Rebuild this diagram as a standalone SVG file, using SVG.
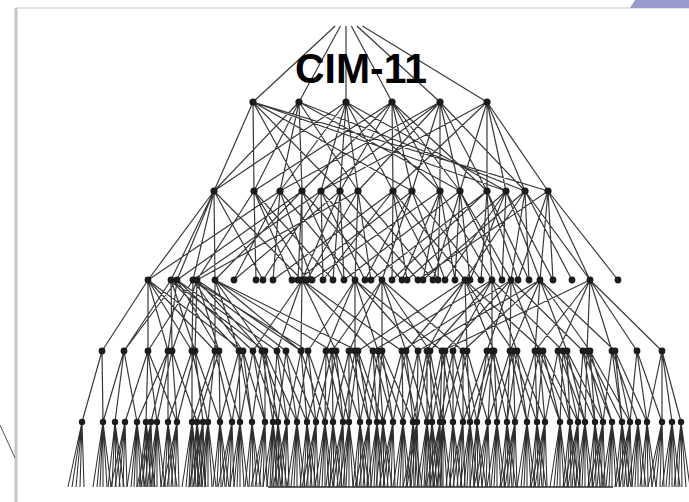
<svg xmlns="http://www.w3.org/2000/svg" xmlns:xlink="http://www.w3.org/1999/xlink" width="689" height="502" viewBox="0 0 689 502">
<style>
.e{fill:none;stroke:#3a3a3a;stroke-width:1.2;stroke-linejoin:round}
.f{fill:none;stroke:#2e2e2e;stroke-width:1.05}
.n{fill:#1c1c1c}
.t{font-family:"Liberation Sans",Arial,sans-serif;font-weight:bold;font-size:43px;fill:#000}
</style>
<defs>
<path id="fa" class="f" d="M0 0L-14 65M0 0L-10 65M0 0L-6 65M0 0L-2 65M0 0L2 65"/>
<path id="fb" class="f" d="M0 0L-10 65M0 0L-6 65M0 0L-3 65M0 0L0 65M0 0L4 65M0 0L8 65"/>
<path id="fc" class="f" d="M0 0L-7 65M0 0L-3 65M0 0L1 65M0 0L5 65M0 0L9 65"/>
</defs>
<rect width="689" height="502" fill="#fff"/>
<g id="frame">
<line x1="16" y1="8" x2="689" y2="8" stroke="#e2e2e2" stroke-width="2"/>
<line x1="16" y1="8" x2="16" y2="502" stroke="#c4c4c4" stroke-width="3"/>
<polygon points="630,8 635,0 689,0 689,8" fill="#9a9acc"/>
<line x1="0" y1="425" x2="15" y2="458" stroke="#555" stroke-width="1"/>
</g>
<g id="connectors">
<path class="e" d="M335.2 26L253 102M340.5 26L299 102M346 26L346 102M351.3 26L392 102M356.9 26L440 102M362.4 26L487 102"/>
<path class="e" d="M214 191L253 102 254 191 253 102 302 191 253 102 340 191 253 102 412 191 253 102 506 191 253 102 548 191
M214 191L299 102 254 191 299 102 280 191 299 102 302 191 299 102 358 191 299 102 460 191 299 102 525 191
M214 191L346 102 280 191 346 102 321 191 346 102 340 191 346 102 358 191 346 102 393 191 346 102 440 191 346 102 506 191
M254 191L392 102 302 191 392 102 340 191 392 102 393 191 392 102 412 191 392 102 440 191 392 102 460 191 392 102 487 191
M280 191L440 102 321 191 440 102 358 191 440 102 412 191 440 102 440 191 440 102 460 191 440 102 487 191 440 102 525 191
M321 191L487 102 393 191 487 102 460 191 487 102 487 191 487 102 506 191 487 102 525 191 487 102 548 191"/>
<path class="e" d="M148 280L214 191 171 280 214 191 177 280 214 191 193 280 214 191 215 280 214 191 263 280 214 191 302 280
M197 280L254 191 256 280 254 191 292 280 254 191 307 280 254 191 333 280
M148 280L280 191 234 280 280 191 273 280 280 191 312 280 280 191 355 280
M177 280L302 191 215 280 302 191 298 280 302 191 302 280 302 191 344 280 302 191 382 280
M193 280L321 191 263 280 321 191 323 280 321 191 365 280 321 191 402 280
M234 280L340 191 302 280 340 191 333 280 340 191 344 280 340 191 418 280
M197 280L358 191 307 280 358 191 355 280 358 191 371 280 358 191 433 280
M273 280L393 191 323 280 393 191 392 280 393 191 407 280 393 191 438 280 393 191 465 280
M298 280L412 191 365 280 412 191 382 280 412 191 445 280 412 191 481 280
M312 280L440 191 402 280 440 191 423 280 440 191 438 280 440 191 455 280 440 191 492 280
M344 280L460 191 433 280 460 191 455 280 460 191 470 280 460 191 502 280 460 191 511 280
M371 280L487 191 392 280 487 191 481 280 487 191 492 280 487 191 518 280 487 191 529 280
M407 280L506 191 445 280 506 191 470 280 506 191 502 280 506 191 540 280 506 191 553 280
M423 280L525 191 465 280 525 191 511 280 525 191 529 280 525 191 572 280 525 191 590 280
M418 280L548 191 518 280 548 191 540 280 548 191 553 280 548 191 590 280 548 191 618 280"/>
<path class="e" d="M102 351L148 280 148 351 148 280 168 351 148 280 192 351 148 280 215 351 148 280 243 351
M124 351L171 280 172 351 171 280 195 351 171 280 239 351 171 280 265 351
M124 351L177 280 168 351 177 280 219 351 177 280 253 351 177 280 277 351
M148 351L193 280 192 351 193 280 243 351 193 280 286 351 193 280 308 351
M172 351L197 280 195 351 197 280 219 351 197 280 262 351 197 280 301 351
M215 351L215 280 239 351 215 280 265 351 215 280 301 351 215 280 332 351 215 280 358 351
M253 351L302 280 277 351 302 280 301 351 302 280 336 351 302 280 373 351 302 280 402 351
M308 351L355 280 326 351 355 280 355 351 355 280 378 351 355 280 418 351 355 280 442 351
M332 351L382 280 349 351 382 280 382 351 382 280 406 351 382 280 430 351 382 280 463 351
M358 351L465 280 406 351 465 280 427 351 465 280 467 351 465 280 494 351 465 280 513 351 465 280 543 351
M373 351L492 280 430 351 492 280 453 351 492 280 492 351 492 280 517 351 492 280 563 351
M402 351L511 280 445 351 511 280 487 351 511 280 510 351 511 280 539 351 511 280 583 351
M418 351L540 280 463 351 540 280 510 351 540 280 535 351 540 280 567 351 540 280 590 351 540 280 615 351
M442 351L590 280 535 351 590 280 558 351 590 280 587 351 590 280 612 351 590 280 637 351 590 280 662 351"/>
<path class="e" d="M82 422L102 351 103 422
M103 422L124 351 115 422 124 351 137 422
M125 422L148 351 146 422 148 351 157 422 148 351 177 422
M137 422L168 351 151 422 168 351 168 422
M157 422L172 351 177 422 172 351 197 422
M168 422L192 351 192 422 192 351 208 422
M177 422L195 351 203 422 195 351 220 422
M192 422L215 351 208 422 215 351 232 422
M197 422L219 351 220 422 219 351 240 422
M220 422L239 351 240 422 239 351 252 422
M232 422L243 351 252 422 243 351 265 422
M240 422L253 351 265 422 253 351 278 422
M252 422L262 351 273 422 262 351 287 422
M265 422L265 351 278 422 265 351 297 422
M273 422L277 351 287 422 277 351 307 422
M278 422L286 351 297 422 286 351 316 422
M287 422L301 351 307 422 301 351 325 422
M297 422L308 351 316 422 308 351 333 422
M307 422L326 351 325 422 326 351 343 422
M316 422L332 351 333 422 332 351 349 422
M325 422L336 351 343 422 336 351 360 422
M333 422L349 351 349 422 349 351 369 422
M343 422L355 351 360 422 355 351 377 422
M349 422L358 351 369 422 358 351 383 422
M360 422L373 351 377 422 373 351 393 422
M369 422L378 351 383 422 378 351 403 422
M377 422L382 351 393 422 382 351 413 422
M383 422L402 351 403 422 402 351 417 422
M393 422L406 351 413 422 406 351 427 422
M403 422L418 351 417 422 418 351 432 422
M413 422L427 351 427 422 427 351 440 422
M417 422L430 351 432 422 430 351 443 422
M427 422L442 351 440 422 442 351 453 422
M432 422L445 351 443 422 445 351 463 422
M440 422L453 351 453 422 453 351 470 422
M443 422L463 351 463 422 463 351 477 422
M453 422L467 351 470 422 467 351 488 422
M463 422L487 351 477 422 487 351 497 422
M470 422L492 351 488 422 492 351 507 422
M477 422L494 351 497 422 494 351 515 422
M488 422L510 351 507 422 510 351 527 422
M497 422L513 351 515 422 513 351 537 422
M507 422L517 351 527 422 517 351 545 422
M515 422L535 351 537 422 535 351 560 422
M527 422L539 351 545 422 539 351 570 422
M537 422L543 351 560 422 543 351 578 422
M545 422L558 351 570 422 558 351 585 422
M560 422L563 351 578 422 563 351 595 422
M570 422L567 351 585 422 567 351 603 422
M578 422L583 351 595 422 583 351 612 422
M585 422L587 351 603 422 587 351 622 422
M595 422L590 351 612 422 590 351 630 422
M603 422L612 351 622 422 612 351 638 422
M622 422L615 351 630 422 615 351 647 422
M630 422L637 351 647 422 637 351 662 422
M647 422L662 351 662 422 662 351 672 422 662 351 681 422"/>
<g id="leaves">
<use href="#fa" x="82" y="422"/><use href="#fb" x="103" y="422"/><use href="#fc" x="115" y="422"/><use href="#fa" x="125" y="422"/><use href="#fb" x="137" y="422"/><use href="#fc" x="146" y="422"/><use href="#fa" x="151" y="422"/><use href="#fb" x="157" y="422"/><use href="#fc" x="168" y="422"/><use href="#fa" x="177" y="422"/><use href="#fb" x="192" y="422"/><use href="#fc" x="197" y="422"/><use href="#fa" x="203" y="422"/><use href="#fb" x="208" y="422"/><use href="#fc" x="220" y="422"/><use href="#fa" x="232" y="422"/><use href="#fb" x="240" y="422"/><use href="#fc" x="252" y="422"/><use href="#fa" x="265" y="422"/><use href="#fb" x="273" y="422"/><use href="#fc" x="278" y="422"/><use href="#fa" x="287" y="422"/><use href="#fb" x="297" y="422"/><use href="#fc" x="307" y="422"/><use href="#fa" x="316" y="422"/><use href="#fb" x="325" y="422"/><use href="#fc" x="333" y="422"/><use href="#fa" x="343" y="422"/><use href="#fb" x="349" y="422"/><use href="#fc" x="360" y="422"/><use href="#fa" x="369" y="422"/><use href="#fb" x="377" y="422"/><use href="#fc" x="383" y="422"/><use href="#fa" x="393" y="422"/><use href="#fb" x="403" y="422"/><use href="#fc" x="413" y="422"/><use href="#fa" x="417" y="422"/><use href="#fb" x="427" y="422"/><use href="#fc" x="432" y="422"/><use href="#fa" x="440" y="422"/><use href="#fb" x="443" y="422"/><use href="#fc" x="453" y="422"/><use href="#fa" x="463" y="422"/><use href="#fb" x="470" y="422"/><use href="#fc" x="477" y="422"/><use href="#fa" x="488" y="422"/><use href="#fb" x="497" y="422"/><use href="#fc" x="507" y="422"/><use href="#fa" x="515" y="422"/><use href="#fb" x="527" y="422"/><use href="#fc" x="537" y="422"/><use href="#fa" x="545" y="422"/><use href="#fb" x="560" y="422"/><use href="#fc" x="570" y="422"/><use href="#fa" x="578" y="422"/><use href="#fb" x="585" y="422"/><use href="#fc" x="595" y="422"/><use href="#fa" x="603" y="422"/><use href="#fb" x="612" y="422"/><use href="#fc" x="622" y="422"/><use href="#fa" x="630" y="422"/><use href="#fb" x="638" y="422"/><use href="#fc" x="647" y="422"/><use href="#fa" x="662" y="422"/><use href="#fb" x="672" y="422"/><use href="#fc" x="681" y="422"/>
<line x1="268" y1="487" x2="613" y2="487" stroke="#2e2e2e" stroke-width="1.6"/>
</g>
</g>
<g id="level1">
<circle id="a253" class="n" cx="253" cy="102" r="3.6"/><circle id="a299" class="n" cx="299" cy="102" r="3.6"/><circle id="a346" class="n" cx="346" cy="102" r="3.6"/><circle id="a392" class="n" cx="392" cy="102" r="3.6"/><circle id="a440" class="n" cx="440" cy="102" r="3.6"/><circle id="a487" class="n" cx="487" cy="102" r="3.6"/>
</g>
<g id="level2">
<circle id="b214" class="n" cx="214" cy="191" r="3.6"/><circle id="b254" class="n" cx="254" cy="191" r="3.6"/><circle id="b280" class="n" cx="280" cy="191" r="3.6"/><circle id="b302" class="n" cx="302" cy="191" r="3.6"/><circle id="b321" class="n" cx="321" cy="191" r="3.6"/><circle id="b340" class="n" cx="340" cy="191" r="3.6"/><circle id="b358" class="n" cx="358" cy="191" r="3.6"/><circle id="b393" class="n" cx="393" cy="191" r="3.6"/><circle id="b412" class="n" cx="412" cy="191" r="3.6"/><circle id="b440" class="n" cx="440" cy="191" r="3.6"/><circle id="b460" class="n" cx="460" cy="191" r="3.6"/><circle id="b487" class="n" cx="487" cy="191" r="3.6"/><circle id="b506" class="n" cx="506" cy="191" r="3.6"/><circle id="b525" class="n" cx="525" cy="191" r="3.6"/><circle id="b548" class="n" cx="548" cy="191" r="3.6"/>
</g>
<g id="level3">
<circle id="c148" class="n" cx="148" cy="280" r="3.4"/><circle id="c171" class="n" cx="171" cy="280" r="3.4"/><circle id="c177" class="n" cx="177" cy="280" r="3.4"/><circle id="c193" class="n" cx="193" cy="280" r="3.4"/><circle id="c197" class="n" cx="197" cy="280" r="3.4"/><circle id="c215" class="n" cx="215" cy="280" r="3.4"/><circle id="c234" class="n" cx="234" cy="280" r="3.4"/><circle id="c256" class="n" cx="256" cy="280" r="3.4"/><circle id="c263" class="n" cx="263" cy="280" r="3.4"/><circle id="c273" class="n" cx="273" cy="280" r="3.4"/><circle id="c292" class="n" cx="292" cy="280" r="3.4"/><circle id="c298" class="n" cx="298" cy="280" r="3.4"/><circle id="c302" class="n" cx="302" cy="280" r="3.4"/><circle id="c307" class="n" cx="307" cy="280" r="3.4"/><circle id="c312" class="n" cx="312" cy="280" r="3.4"/><circle id="c323" class="n" cx="323" cy="280" r="3.4"/><circle id="c333" class="n" cx="333" cy="280" r="3.4"/><circle id="c344" class="n" cx="344" cy="280" r="3.4"/><circle id="c355" class="n" cx="355" cy="280" r="3.4"/><circle id="c365" class="n" cx="365" cy="280" r="3.4"/><circle id="c371" class="n" cx="371" cy="280" r="3.4"/><circle id="c382" class="n" cx="382" cy="280" r="3.4"/><circle id="c392" class="n" cx="392" cy="280" r="3.4"/><circle id="c402" class="n" cx="402" cy="280" r="3.4"/><circle id="c407" class="n" cx="407" cy="280" r="3.4"/><circle id="c418" class="n" cx="418" cy="280" r="3.4"/><circle id="c423" class="n" cx="423" cy="280" r="3.4"/><circle id="c433" class="n" cx="433" cy="280" r="3.4"/><circle id="c438" class="n" cx="438" cy="280" r="3.4"/><circle id="c445" class="n" cx="445" cy="280" r="3.4"/><circle id="c455" class="n" cx="455" cy="280" r="3.4"/><circle id="c465" class="n" cx="465" cy="280" r="3.4"/><circle id="c470" class="n" cx="470" cy="280" r="3.4"/><circle id="c481" class="n" cx="481" cy="280" r="3.4"/><circle id="c492" class="n" cx="492" cy="280" r="3.4"/><circle id="c502" class="n" cx="502" cy="280" r="3.4"/><circle id="c511" class="n" cx="511" cy="280" r="3.4"/><circle id="c518" class="n" cx="518" cy="280" r="3.4"/><circle id="c529" class="n" cx="529" cy="280" r="3.4"/><circle id="c540" class="n" cx="540" cy="280" r="3.4"/><circle id="c553" class="n" cx="553" cy="280" r="3.4"/><circle id="c572" class="n" cx="572" cy="280" r="3.4"/><circle id="c590" class="n" cx="590" cy="280" r="3.4"/><circle id="c618" class="n" cx="618" cy="280" r="3.4"/>
</g>
<g id="level4">
<circle id="d102" class="n" cx="102" cy="351" r="3.4"/><circle id="d124" class="n" cx="124" cy="351" r="3.4"/><circle id="d148" class="n" cx="148" cy="351" r="3.4"/><circle id="d168" class="n" cx="168" cy="351" r="3.4"/><circle id="d172" class="n" cx="172" cy="351" r="3.4"/><circle id="d192" class="n" cx="192" cy="351" r="3.4"/><circle id="d195" class="n" cx="195" cy="351" r="3.4"/><circle id="d215" class="n" cx="215" cy="351" r="3.4"/><circle id="d219" class="n" cx="219" cy="351" r="3.4"/><circle id="d239" class="n" cx="239" cy="351" r="3.4"/><circle id="d243" class="n" cx="243" cy="351" r="3.4"/><circle id="d253" class="n" cx="253" cy="351" r="3.4"/><circle id="d262" class="n" cx="262" cy="351" r="3.4"/><circle id="d265" class="n" cx="265" cy="351" r="3.4"/><circle id="d277" class="n" cx="277" cy="351" r="3.4"/><circle id="d286" class="n" cx="286" cy="351" r="3.4"/><circle id="d301" class="n" cx="301" cy="351" r="3.4"/><circle id="d308" class="n" cx="308" cy="351" r="3.4"/><circle id="d326" class="n" cx="326" cy="351" r="3.4"/><circle id="d332" class="n" cx="332" cy="351" r="3.4"/><circle id="d336" class="n" cx="336" cy="351" r="3.4"/><circle id="d349" class="n" cx="349" cy="351" r="3.4"/><circle id="d355" class="n" cx="355" cy="351" r="3.4"/><circle id="d358" class="n" cx="358" cy="351" r="3.4"/><circle id="d373" class="n" cx="373" cy="351" r="3.4"/><circle id="d378" class="n" cx="378" cy="351" r="3.4"/><circle id="d382" class="n" cx="382" cy="351" r="3.4"/><circle id="d402" class="n" cx="402" cy="351" r="3.4"/><circle id="d406" class="n" cx="406" cy="351" r="3.4"/><circle id="d418" class="n" cx="418" cy="351" r="3.4"/><circle id="d427" class="n" cx="427" cy="351" r="3.4"/><circle id="d430" class="n" cx="430" cy="351" r="3.4"/><circle id="d442" class="n" cx="442" cy="351" r="3.4"/><circle id="d445" class="n" cx="445" cy="351" r="3.4"/><circle id="d453" class="n" cx="453" cy="351" r="3.4"/><circle id="d463" class="n" cx="463" cy="351" r="3.4"/><circle id="d467" class="n" cx="467" cy="351" r="3.4"/><circle id="d487" class="n" cx="487" cy="351" r="3.4"/><circle id="d492" class="n" cx="492" cy="351" r="3.4"/><circle id="d494" class="n" cx="494" cy="351" r="3.4"/><circle id="d510" class="n" cx="510" cy="351" r="3.4"/><circle id="d513" class="n" cx="513" cy="351" r="3.4"/><circle id="d517" class="n" cx="517" cy="351" r="3.4"/><circle id="d535" class="n" cx="535" cy="351" r="3.4"/><circle id="d539" class="n" cx="539" cy="351" r="3.4"/><circle id="d543" class="n" cx="543" cy="351" r="3.4"/><circle id="d558" class="n" cx="558" cy="351" r="3.4"/><circle id="d563" class="n" cx="563" cy="351" r="3.4"/><circle id="d567" class="n" cx="567" cy="351" r="3.4"/><circle id="d583" class="n" cx="583" cy="351" r="3.4"/><circle id="d587" class="n" cx="587" cy="351" r="3.4"/><circle id="d590" class="n" cx="590" cy="351" r="3.4"/><circle id="d612" class="n" cx="612" cy="351" r="3.4"/><circle id="d615" class="n" cx="615" cy="351" r="3.4"/><circle id="d637" class="n" cx="637" cy="351" r="3.4"/><circle id="d662" class="n" cx="662" cy="351" r="3.4"/>
</g>
<g id="level5">
<circle id="e82" class="n" cx="82" cy="422" r="3.2"/><circle id="e103" class="n" cx="103" cy="422" r="3.2"/><circle id="e115" class="n" cx="115" cy="422" r="3.2"/><circle id="e125" class="n" cx="125" cy="422" r="3.2"/><circle id="e137" class="n" cx="137" cy="422" r="3.2"/><circle id="e146" class="n" cx="146" cy="422" r="3.2"/><circle id="e151" class="n" cx="151" cy="422" r="3.2"/><circle id="e157" class="n" cx="157" cy="422" r="3.2"/><circle id="e168" class="n" cx="168" cy="422" r="3.2"/><circle id="e177" class="n" cx="177" cy="422" r="3.2"/><circle id="e192" class="n" cx="192" cy="422" r="3.2"/><circle id="e197" class="n" cx="197" cy="422" r="3.2"/><circle id="e203" class="n" cx="203" cy="422" r="3.2"/><circle id="e208" class="n" cx="208" cy="422" r="3.2"/><circle id="e220" class="n" cx="220" cy="422" r="3.2"/><circle id="e232" class="n" cx="232" cy="422" r="3.2"/><circle id="e240" class="n" cx="240" cy="422" r="3.2"/><circle id="e252" class="n" cx="252" cy="422" r="3.2"/><circle id="e265" class="n" cx="265" cy="422" r="3.2"/><circle id="e273" class="n" cx="273" cy="422" r="3.2"/><circle id="e278" class="n" cx="278" cy="422" r="3.2"/><circle id="e287" class="n" cx="287" cy="422" r="3.2"/><circle id="e297" class="n" cx="297" cy="422" r="3.2"/><circle id="e307" class="n" cx="307" cy="422" r="3.2"/><circle id="e316" class="n" cx="316" cy="422" r="3.2"/><circle id="e325" class="n" cx="325" cy="422" r="3.2"/><circle id="e333" class="n" cx="333" cy="422" r="3.2"/><circle id="e343" class="n" cx="343" cy="422" r="3.2"/><circle id="e349" class="n" cx="349" cy="422" r="3.2"/><circle id="e360" class="n" cx="360" cy="422" r="3.2"/><circle id="e369" class="n" cx="369" cy="422" r="3.2"/><circle id="e377" class="n" cx="377" cy="422" r="3.2"/><circle id="e383" class="n" cx="383" cy="422" r="3.2"/><circle id="e393" class="n" cx="393" cy="422" r="3.2"/><circle id="e403" class="n" cx="403" cy="422" r="3.2"/><circle id="e413" class="n" cx="413" cy="422" r="3.2"/><circle id="e417" class="n" cx="417" cy="422" r="3.2"/><circle id="e427" class="n" cx="427" cy="422" r="3.2"/><circle id="e432" class="n" cx="432" cy="422" r="3.2"/><circle id="e440" class="n" cx="440" cy="422" r="3.2"/><circle id="e443" class="n" cx="443" cy="422" r="3.2"/><circle id="e453" class="n" cx="453" cy="422" r="3.2"/><circle id="e463" class="n" cx="463" cy="422" r="3.2"/><circle id="e470" class="n" cx="470" cy="422" r="3.2"/><circle id="e477" class="n" cx="477" cy="422" r="3.2"/><circle id="e488" class="n" cx="488" cy="422" r="3.2"/><circle id="e497" class="n" cx="497" cy="422" r="3.2"/><circle id="e507" class="n" cx="507" cy="422" r="3.2"/><circle id="e515" class="n" cx="515" cy="422" r="3.2"/><circle id="e527" class="n" cx="527" cy="422" r="3.2"/><circle id="e537" class="n" cx="537" cy="422" r="3.2"/><circle id="e545" class="n" cx="545" cy="422" r="3.2"/><circle id="e560" class="n" cx="560" cy="422" r="3.2"/><circle id="e570" class="n" cx="570" cy="422" r="3.2"/><circle id="e578" class="n" cx="578" cy="422" r="3.2"/><circle id="e585" class="n" cx="585" cy="422" r="3.2"/><circle id="e595" class="n" cx="595" cy="422" r="3.2"/><circle id="e603" class="n" cx="603" cy="422" r="3.2"/><circle id="e612" class="n" cx="612" cy="422" r="3.2"/><circle id="e622" class="n" cx="622" cy="422" r="3.2"/><circle id="e630" class="n" cx="630" cy="422" r="3.2"/><circle id="e638" class="n" cx="638" cy="422" r="3.2"/><circle id="e647" class="n" cx="647" cy="422" r="3.2"/><circle id="e662" class="n" cx="662" cy="422" r="3.2"/><circle id="e672" class="n" cx="672" cy="422" r="3.2"/><circle id="e681" class="n" cx="681" cy="422" r="3.2"/>
</g>
<g id="title">
<text class="t" x="361" y="83" text-anchor="middle" textLength="132" lengthAdjust="spacingAndGlyphs">CIM-11</text>
</g>
</svg>
